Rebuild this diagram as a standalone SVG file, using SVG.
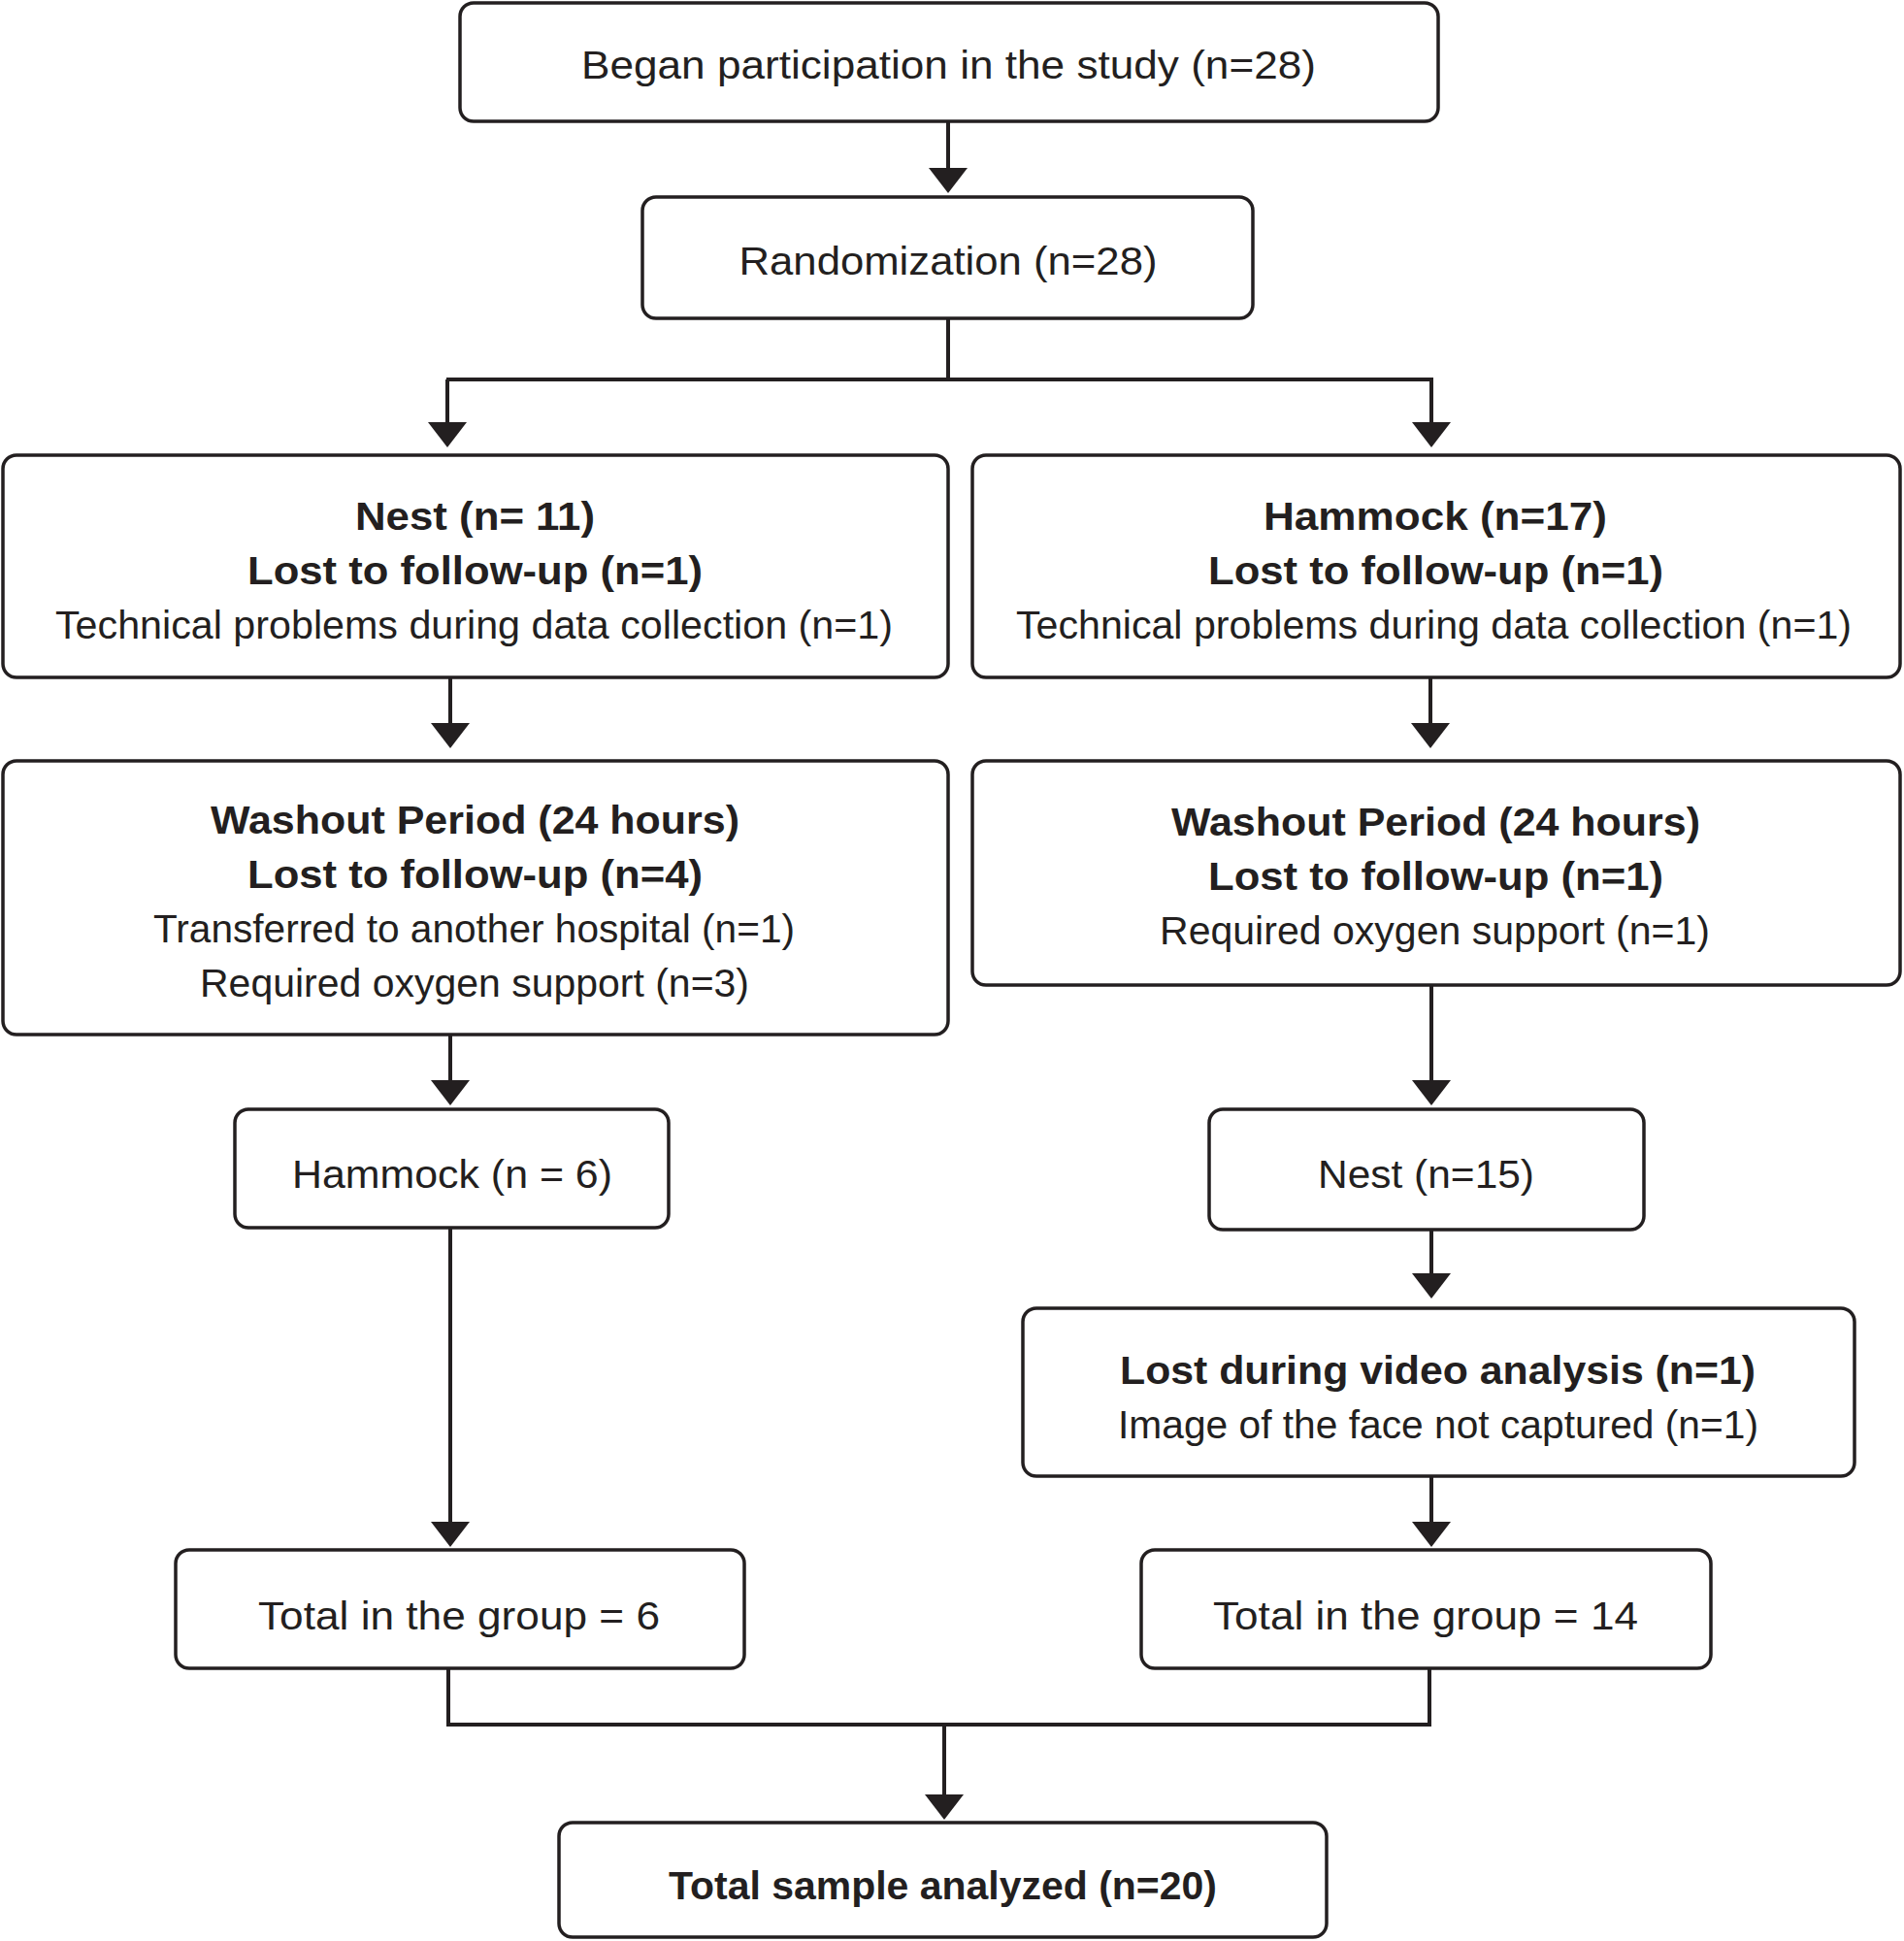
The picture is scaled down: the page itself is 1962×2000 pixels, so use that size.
<svg xmlns="http://www.w3.org/2000/svg" width="1962" height="2000" viewBox="0 0 1962 2000">
<style>
.box{fill:#fff;stroke:#231f20;stroke-width:3.5}
.t{font-family:"Liberation Sans",Arial,sans-serif;font-size:41px;fill:#231f20;text-anchor:middle}
.b{font-weight:bold}
.c{fill:none;stroke:#231f20;stroke-width:4}
</style>
<defs>
<marker id="ah" markerUnits="userSpaceOnUse" markerWidth="26" markerHeight="40" refX="20" refY="20" orient="auto" viewBox="0 0 26 40">
<path d="M0,0 L26,20 L0,40 z" fill="#231f20"/>
</marker>
</defs>
<rect width="1962" height="2000" fill="#fff"/>
<g id="connectors">
<path class="c" d="M977,125 V193" marker-end="url(#ah)"/>
<path class="c" d="M977,328 V391"/>
<path class="c" d="M460,391 H1477"/>
<path class="c" d="M461,391 V455" marker-end="url(#ah)"/>
<path class="c" d="M1475,391 V455" marker-end="url(#ah)"/>
<path class="c" d="M464,698 V765" marker-end="url(#ah)"/>
<path class="c" d="M1474,698 V765" marker-end="url(#ah)"/>
<path class="c" d="M464,1066 V1133" marker-end="url(#ah)"/>
<path class="c" d="M1475,1015 V1133" marker-end="url(#ah)"/>
<path class="c" d="M1475,1267 V1332" marker-end="url(#ah)"/>
<path class="c" d="M1475,1521 V1588" marker-end="url(#ah)"/>
<path class="c" d="M464,1265 V1588" marker-end="url(#ah)"/>
<path class="c" d="M462,1719 V1777 H1473 V1719"/>
<path class="c" d="M973,1777 V1869" marker-end="url(#ah)"/>
</g>
<g id="began">
<rect class="box" x="474" y="3" width="1008" height="122" rx="14"/>
<text class="t" x="977.5" y="81" textLength="757" lengthAdjust="spacingAndGlyphs">Began participation in the study (n=28)</text>
</g>
<g id="randomization">
<rect class="box" x="662" y="203" width="629" height="125" rx="14"/>
<text class="t" x="977" y="283" textLength="431" lengthAdjust="spacingAndGlyphs">Randomization (n=28)</text>
</g>
<g id="nest1">
<rect class="box" x="3" y="469" width="974" height="229" rx="14"/>
<text class="t b" x="489.5" y="546" textLength="247" lengthAdjust="spacingAndGlyphs">Nest (n= 11)</text>
<text class="t b" x="489.5" y="602" textLength="469" lengthAdjust="spacingAndGlyphs">Lost to follow-up (n=1)</text>
<text class="t" x="488.5" y="658" textLength="863" lengthAdjust="spacingAndGlyphs">Technical problems during data collection (n=1)</text>
</g>
<g id="hammock1">
<rect class="box" x="1002" y="469" width="956" height="229" rx="14"/>
<text class="t b" x="1479" y="546" textLength="354" lengthAdjust="spacingAndGlyphs">Hammock (n=17)</text>
<text class="t b" x="1479.5" y="602" textLength="469" lengthAdjust="spacingAndGlyphs">Lost to follow-up (n=1)</text>
<text class="t" x="1477.5" y="658" textLength="861" lengthAdjust="spacingAndGlyphs">Technical problems during data collection (n=1)</text>
</g>
<g id="washout-left">
<rect class="box" x="3" y="784" width="974" height="282" rx="14"/>
<text class="t b" x="489.5" y="859" textLength="545" lengthAdjust="spacingAndGlyphs">Washout Period (24 hours)</text>
<text class="t b" x="489.5" y="915" textLength="469" lengthAdjust="spacingAndGlyphs">Lost to follow-up (n=4)</text>
<text class="t" x="488.5" y="971" textLength="661" lengthAdjust="spacingAndGlyphs">Transferred to another hospital (n=1)</text>
<text class="t" x="489" y="1027" textLength="566" lengthAdjust="spacingAndGlyphs">Required oxygen support (n=3)</text>
</g>
<g id="washout-right">
<rect class="box" x="1002" y="784" width="956" height="231" rx="14"/>
<text class="t b" x="1479.5" y="861" textLength="545" lengthAdjust="spacingAndGlyphs">Washout Period (24 hours)</text>
<text class="t b" x="1479.5" y="917" textLength="469" lengthAdjust="spacingAndGlyphs">Lost to follow-up (n=1)</text>
<text class="t" x="1478.5" y="973" textLength="567" lengthAdjust="spacingAndGlyphs">Required oxygen support (n=1)</text>
</g>
<g id="hammock2">
<rect class="box" x="242" y="1143" width="447" height="122" rx="14"/>
<text class="t" x="466" y="1224" textLength="330" lengthAdjust="spacingAndGlyphs">Hammock (n = 6)</text>
</g>
<g id="nest2">
<rect class="box" x="1246" y="1143" width="448" height="124" rx="14"/>
<text class="t" x="1469.5" y="1224" textLength="223" lengthAdjust="spacingAndGlyphs">Nest (n=15)</text>
</g>
<g id="lost-video">
<rect class="box" x="1054" y="1348" width="857" height="173" rx="14"/>
<text class="t b" x="1481.5" y="1426" textLength="655" lengthAdjust="spacingAndGlyphs">Lost during video analysis (n=1)</text>
<text class="t" x="1482" y="1482" textLength="660" lengthAdjust="spacingAndGlyphs">Image of the face not captured (n=1)</text>
</g>
<g id="total-left">
<rect class="box" x="181" y="1597" width="586" height="122" rx="14"/>
<text class="t" x="473" y="1679" textLength="414" lengthAdjust="spacingAndGlyphs">Total in the group = 6</text>
</g>
<g id="total-right">
<rect class="box" x="1176" y="1597" width="587" height="122" rx="14"/>
<text class="t" x="1469" y="1679" textLength="438" lengthAdjust="spacingAndGlyphs">Total in the group = 14</text>
</g>
<g id="total-sample">
<rect class="box" x="576" y="1878" width="791" height="118" rx="14"/>
<text class="t b" x="971.5" y="1957" textLength="565" lengthAdjust="spacingAndGlyphs">Total sample analyzed (n=20)</text>
</g>
</svg>
